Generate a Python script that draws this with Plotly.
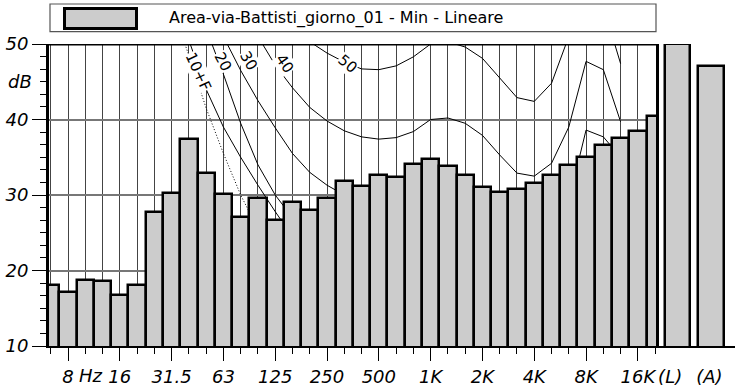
import plotly.graph_objects as go

# ---------------- data ----------------
band_labels = ["6.3", "8", "10", "12.5", "16", "20", "25", "31.5", "40", "50", "63", "80",
               "100", "125", "160", "200", "250", "315", "400", "500", "630", "800",
               "1K", "1.25K", "1.6K", "2K", "2.5K", "3.15K", "4K", "5K", "6.3K", "8K",
               "10K", "12.5K", "16K", "20K"]
levels = [18.1, 17.1, 18.8, 18.6, 16.8, 18.1, 27.8, 30.3, 37.4, 32.9, 30.1, 27.1,
          29.6, 26.7, 29.1, 28.0, 29.6, 31.8, 31.2, 32.6, 32.4, 34.1,
          34.8, 33.8, 32.7, 31.1, 30.4, 30.8, 31.6, 32.6, 34.0, 35.1,
          36.6, 37.5, 38.5, 40.5]
total_labels = ["(L)", "(A)"]
total_levels = [50.0, 47.1]

octave_labels = ["8", "16", "31.5", "63", "125", "250", "500", "1K", "2K", "4K", "8K", "16K"]
octave_bands = ["8", "16", "31.5", "63", "125", "250", "500", "1K", "2K", "4K", "8K", "16K"]

# equal-loudness contours (and threshold), bands 20 Hz .. 12.5 kHz
contour_bands = band_labels[5:34]
threshold = [75, 64, 55, 48.5, 41.5, 35.5, 30, 25.5, 21.5, 17.5, 14, 11, 8.6, 6.2, 4.4, 3, 2.2,
             2.4, 3.5, 1.7, -1.3, -4.2, -6, -5.4, -1.5, 6, 12.6, 13.9, 12.3]
phon_10 = [72, 64, 58, 50.5, 44, 39, 35, 31.3, 27.8, 24.5, 21.5, 19, 17, 15.5, 14, 13, 12,
           10, 10.3, 9.5, 8, 5.5, 3, 2.5, 4.5, 9, 18, 17, 14]
phon_20 = [76, 69, 63.5, 57.5, 52, 46, 39.5, 34, 30, 27, 25, 23.5, 22.5, 21.5, 20.8, 20.3, 20,
           20, 20.3, 19.5, 18, 15.5, 13, 12.5, 14.5, 19.5, 28, 27.5, 24]
phon_30 = [78, 72, 67, 62, 56, 51, 46.5, 42.5, 38.9, 35.5, 33, 31.3, 30, 29, 28.5, 28.5, 29,
           30, 30.3, 29.5, 28, 25.5, 23, 22.5, 24.5, 29.2, 38.6, 37.7, 35]
phon_40 = [82, 77, 72, 67.5, 63, 59, 55, 51, 47.2, 44.2, 41.6, 39.8, 38.5, 37.7, 37.4, 37.6, 38.4,
           40, 40.2, 39.5, 37.9, 35.3, 32.9, 32.5, 34.2, 39, 47.7, 46.6, 39.7]
phon_50 = [88, 83, 78, 73.5, 69, 65, 61.5, 58, 55.5, 52.5, 50.3, 48.8, 47.6, 46.7, 46.6, 47.1, 48.3,
           50, 50.3, 49.6, 48.1, 45.5, 42.9, 42.4, 44.8, 51, 57, 55, 47.4]
contours = [("10+F", phon_10), ("20", phon_20), ("30", phon_30), ("40", phon_40), ("50", phon_50)]
# label anchor (band position, dB, angle)
contour_label_pos = {"10+F": (8.55, 46.3, 65), "20": (9.97, 47.6, 62), "30": (11.47, 47.75, 60),
                     "40": (13.56, 47.35, 55), "50": (17.2, 47.35, 40)}

legend_text = "Area-via-Battisti_giorno_01 - Min - Lineare"

# ---------------- figure ----------------
W, H = 738, 390
ML, MR, MT, MB = 49, 3, 4, 44
PW, PH = W - ML - MR, H - MT - MB
main_right = (656 - ML) / PW
ytop = (346 - 44) / PH

band_pos = {b: i for i, b in enumerate(band_labels)}
xb = [band_pos[b] for b in band_labels]
xc = [band_pos[b] for b in contour_bands]

fig = go.Figure()

pattern = dict(shape=".", fgcolor="black", bgcolor="white", size=2, solidity=0.45)

# threshold (dotted) and contours on base subplot (behind bars)
fig.add_trace(go.Scatter(x=xc, y=threshold, mode="lines",
                         line=dict(color="black", width=1, dash="1px,2px"),
                         xaxis="x", yaxis="y", hoverinfo="skip"))
for name, vals in contours:
    fig.add_trace(go.Scatter(x=xc, y=vals, mode="lines", line=dict(color="black", width=1),
                             xaxis="x", yaxis="y", hoverinfo="skip"))

# bars on overlay subplot
fig.add_trace(go.Bar(x=xb, y=levels, width=1.0, base=0,
                     marker=dict(color="white", line=dict(color="black", width=2.5), pattern=pattern),
                     xaxis="x4", yaxis="y4"))
# totals
fig.add_trace(go.Bar(x=[0, 1], y=total_levels, width=0.75, base=0,
                     marker=dict(color="white", line=dict(color="black", width=2.5), pattern=pattern),
                     xaxis="x2", yaxis="y2"))
# legend swatch
fig.add_trace(go.Bar(x=[0.5], y=[1], width=1.0, base=0,
                     marker=dict(color="white", line=dict(color="black", width=3), pattern=pattern),
                     xaxis="x3", yaxis="y3"))

tickfont = dict(family="DejaVu Sans", size=18, color="black", style="italic")
xr = [-0.1, 35.05]
yr = [10, 50]

fig.update_layout(
    width=W, height=H, margin=dict(l=ML, r=MR, t=MT, b=MB, autoexpand=False),
    paper_bgcolor="white", plot_bgcolor="white", showlegend=False, bargap=0,
    xaxis=dict(domain=[0, main_right], range=xr, anchor="y", automargin=False,
               tickvals=[band_pos[b] for b in octave_bands], ticktext=octave_labels,
               ticks="outside", ticklen=13, tickwidth=1, tickcolor="black",
               ticklabelstandoff=1,
               showgrid=True, gridcolor="#444", gridwidth=1,
               minor=dict(dtick=1, tick0=0, ticks="outside", ticklen=6, tickcolor="black",
                          showgrid=True, gridcolor="#444", gridwidth=1),
               showline=True, linecolor="black", linewidth=1.5, zeroline=False,
               tickfont=tickfont),
    yaxis=dict(domain=[0, ytop], range=yr, anchor="x", automargin=False,
               tickvals=[10, 20, 30, 40, 50], ticks="outside", ticklen=14, tickcolor="black",
               showgrid=True, gridcolor="#777", gridwidth=1.5,
               minor=dict(dtick=10 / 6, tick0=10, ticks="outside", ticklen=6, tickcolor="black",
                          showgrid=False),
               showline=True, mirror=True, linecolor="black", linewidth=3, zeroline=False,
               tickfont=dict(family="DejaVu Sans", size=18, color="black", style="italic")),
    xaxis4=dict(overlaying="x", range=xr, anchor="y4", visible=False, automargin=False),
    yaxis4=dict(overlaying="y", range=yr, anchor="x4", visible=False, automargin=False),
    xaxis2=dict(domain=[main_right, 1], range=[-0.642, 1.716], anchor="y2", automargin=False,
                tickvals=[-0.22, 0.95], ticktext=total_labels, ticks="outside", ticklen=13,
                tickcolor="rgba(0,0,0,0)", ticklabelstandoff=1,
                showgrid=False, showline=True, linecolor="black", linewidth=1.5, zeroline=False,
                tickfont=tickfont),
    yaxis2=dict(domain=[0, ytop], range=yr, anchor="x2", visible=False, automargin=False),
    xaxis3=dict(domain=[(63 - ML) / PW, (139 - ML) / PW], range=[-0.035, 1.035], anchor="y3",
                visible=False, fixedrange=True, automargin=False),
    yaxis3=dict(domain=[(346 - 31.5) / PH, (346 - 7) / PH], range=[-0.11, 1.115], anchor="x3",
                visible=False, fixedrange=True, automargin=False),
)

# top border of the main panel
fig.add_shape(type="line", xref="x domain", yref="y", x0=0, x1=1, y0=50, y1=50,
              line=dict(color="black", width=3))
# legend box
fig.add_shape(type="rect", xref="paper", yref="paper",
              x0=(50 - ML) / PW, x1=(656 - ML) / PW, y0=(346 - 31.7) / PH, y1=(346 - 4) / PH,
              line=dict(color="#555", width=1.2), fillcolor="rgba(0,0,0,0)", layer="below")
fig.add_annotation(xref="paper", yref="paper", x=(167 - ML) / PW, y=(346 - 18) / PH,
                   xanchor="left", yanchor="middle", text=legend_text, showarrow=False,
                   font=dict(family="DejaVu Sans", size=16, color="black"))
# dB unit
fig.add_annotation(xref="paper", yref="y", x=(34 - ML) / PW, y=45, xanchor="right", yanchor="middle",
                   text="dB", showarrow=False,
                   font=dict(family="DejaVu Sans", size=18, color="black", style="italic"))
# Hz unit
fig.add_annotation(xref="x", yref="paper", x=1.5, y=(346 - 375) / PH, xanchor="left", yanchor="middle",
                   text="Hz", showarrow=False, font=tickfont)
# contour labels
for name, _ in contours:
    px_, py_, ang = contour_label_pos[name]
    fig.add_annotation(xref="x", yref="y", x=px_, y=py_, text=name, textangle=ang, showarrow=False,
                       bgcolor="white", borderpad=0,
                       font=dict(family="DejaVu Sans", size=15, color="black"))

fig.write_html("out.html", config={"displayModeBar": False},
               post_script="document.body.style.margin='0';document.body.style.padding='0';")
